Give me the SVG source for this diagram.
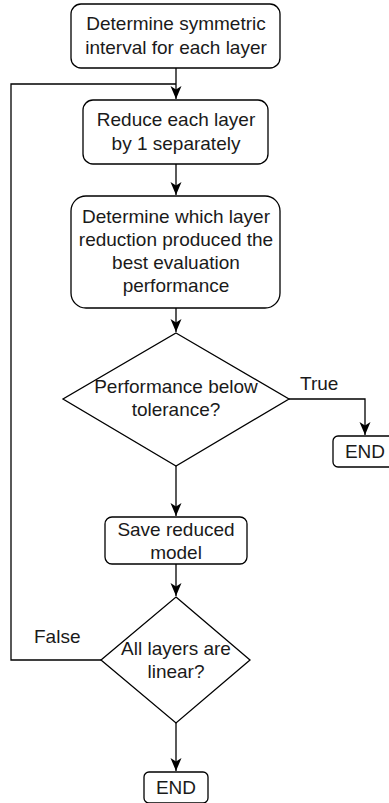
<svg xmlns="http://www.w3.org/2000/svg" width="389" height="803" viewBox="0 0 389 803">
<style>
.n{fill:#fff;stroke:#000;stroke-width:1.3}
.t{font-family:"Liberation Sans",Arial,sans-serif;font-size:19px;fill:#1a1a1a;text-anchor:middle}
.l{font-family:"Liberation Sans",Arial,sans-serif;font-size:19px;fill:#1a1a1a}
.c{fill:none;stroke:#000;stroke-width:1.3}
</style>
<defs>
<marker id="a" markerUnits="userSpaceOnUse" markerWidth="14" markerHeight="14" viewBox="0 0 14 14" refX="13" refY="7" orient="auto">
<path d="M0,1.5 L13,7 L0,12.5 L3.5,7 z" fill="#000"/>
</marker>
</defs>
<g id="connectors">
<path class="c" d="M176,68 V99" marker-end="url(#a)"/>
<path class="c" d="M101,660 H11 V84 H176"/>
<path class="c" d="M176,164 V195" marker-end="url(#a)"/>
<path class="c" d="M176,308 V332" marker-end="url(#a)"/>
<path class="c" d="M289,399 H365 V435" marker-end="url(#a)"/>
<path class="c" d="M176,466 V516" marker-end="url(#a)"/>
<path class="c" d="M176,564 V596" marker-end="url(#a)"/>
<path class="c" d="M176,723 V771" marker-end="url(#a)"/>
<text class="l" x="300" y="390">True</text>
<text class="l" x="34" y="643">False</text>
</g>
<g id="n1">
<rect class="n" x="71" y="4" width="209" height="64" rx="10"/>
<text class="t" x="176" y="30">Determine symmetric</text>
<text class="t" x="176" y="54">interval for each layer</text>
</g>
<g id="n2">
<rect class="n" x="83" y="100" width="185" height="64" rx="10"/>
<text class="t" x="176" y="126">Reduce each layer</text>
<text class="t" x="176" y="150">by 1 separately</text>
</g>
<g id="n3">
<rect class="n" x="71" y="196" width="209" height="112" rx="15"/>
<text class="t" x="176" y="223">Determine which layer</text>
<text class="t" x="176" y="246">reduction produced the</text>
<text class="t" x="176" y="269">best evaluation</text>
<text class="t" x="176" y="292">performance</text>
</g>
<g id="d1">
<polygon class="n" points="176,333 289,399 176,466 63,399"/>
<text class="t" x="176" y="393">Performance below</text>
<text class="t" x="176" y="416">tolerance?</text>
</g>
<g id="end1">
<rect class="n" x="333" y="436" width="64" height="31" rx="5"/>
<text class="t" x="365" y="458">END</text>
</g>
<g id="n4">
<rect class="n" x="105" y="517" width="142" height="47" rx="7"/>
<text class="t" x="176" y="536">Save reduced</text>
<text class="t" x="176" y="559">model</text>
</g>
<g id="d2">
<polygon class="n" points="176,597 250,660 176,723 101,660"/>
<text class="t" x="176" y="655">All layers are</text>
<text class="t" x="176" y="678">linear?</text>
</g>
<g id="end2">
<rect class="n" x="144" y="772" width="64" height="31" rx="5"/>
<text class="t" x="176" y="794">END</text>
</g>
</svg>
